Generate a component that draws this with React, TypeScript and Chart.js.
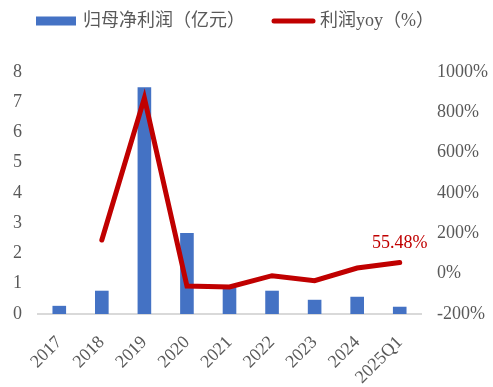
import React, { useEffect, useRef } from "react";
import { Chart, registerables } from "chart.js";

Chart.register(...registerables);

const categories = ["2017", "2018", "2019", "2020", "2021", "2022", "2023", "2024", "2025Q1"];
const netProfit = [0.27, 0.77, 7.5, 2.68, 0.88, 0.77, 0.47, 0.57, 0.24];
const profitYoy = [null, 167, 871, -61, -66, -10, -35, 28, 55.48];
const leftTicks = [0, 1, 2, 3, 4, 5, 6, 7, 8];
const rightTicks = [-200, 0, 200, 400, 600, 800, 1000];
const lastLabel = "55.48%";
const barName = "归母净利润（亿元）";
const lineName = "利润yoy（%）";

const FONT = "'Liberation Serif', 'Times New Roman', 'Noto Sans CJK SC', serif";

export default function App() {
  const ref = useRef<HTMLCanvasElement | null>(null);
  useEffect(() => {
    if (!ref.current) return;
    const labelPlugin = {
      id: "lastLabel",
      afterDatasetsDraw(chart: any) {
        const meta = chart.getDatasetMeta(1);
        const pt = meta.data[meta.data.length - 1];
        if (!pt) return;
        const ctx = chart.ctx;
        ctx.save();
        ctx.fillStyle = "#C00000";
        ctx.font = `18px ${FONT}`;
        ctx.textAlign = "center";
        ctx.textBaseline = "bottom";
        ctx.fillText(lastLabel, pt.x, pt.y - 10);
        ctx.restore();
      },
    };
    const legendPlugin = {
      id: "customLegend",
      afterDraw(chart: any) {
        const ctx = chart.ctx;
        ctx.save();
        const cy = 21;
        ctx.fillStyle = "#4472C4";
        ctx.fillRect(36, cy - 4.5, 40, 9);
        ctx.font = `18px ${FONT}`;
        ctx.fillStyle = "#595959";
        ctx.textAlign = "left";
        ctx.textBaseline = "middle";
        ctx.fillText(barName, 83, cy);
        ctx.strokeStyle = "#C00000";
        ctx.lineWidth = 5;
        ctx.lineCap = "round";
        ctx.beginPath();
        ctx.moveTo(274, cy);
        ctx.lineTo(313, cy);
        ctx.stroke();
        ctx.fillText(lineName, 320, cy);
        ctx.restore();
      },
    };
    const chart = new Chart(ref.current, {
      type: "bar",
      data: {
        labels: categories,
        datasets: [
          {
            type: "bar",
            label: barName,
            data: netProfit,
            backgroundColor: "#4472C4",
            borderWidth: 0,
            yAxisID: "y",
            barPercentage: 0.32,
            categoryPercentage: 1,
            order: 2,
          },
          {
            type: "line",
            label: lineName,
            data: profitYoy as any,
            borderColor: "#C00000",
            backgroundColor: "#C00000",
            borderWidth: 5,
            borderCapStyle: "round",
            pointRadius: 0,
            pointHoverRadius: 0,
            tension: 0,
            spanGaps: false,
            yAxisID: "y1",
            order: 1,
          },
        ],
      },
      options: {
        animation: false,
        responsive: true,
        maintainAspectRatio: false,
        layout: { padding: { top: 72, left: 0, right: 0, bottom: 0 } },
        plugins: {
          tooltip: { enabled: false },
          legend: { display: false },
        },
        scales: {
          x: {
            grid: { display: false, drawTicks: false },
            border: { display: true, color: "#D9D9D9", width: 2 },
            ticks: {
              color: "#595959",
              font: { family: FONT, size: 18 },
              maxRotation: 45,
              minRotation: 45,
              padding: 18,
              autoSkip: false,
            },
            afterFit(scale: any) {
              scale.height = 73;
            },
          },
          y: {
            position: "left",
            min: 0,
            max: 8,
            afterBuildTicks(scale: any) {
              scale.ticks = leftTicks.map((v) => ({ value: v }));
            },
            grid: { display: false, drawTicks: false },
            border: { display: false },
            ticks: {
              color: "#595959",
              font: { family: FONT, size: 18 },
              padding: 16,
            },
            afterFit(scale: any) {
              scale.width = 38;
            },
          },
          y1: {
            position: "right",
            min: -200,
            max: 1000,
            afterBuildTicks(scale: any) {
              scale.ticks = rightTicks.map((v) => ({ value: v }));
            },
            grid: { display: false, drawTicks: false },
            border: { display: false },
            ticks: {
              color: "#595959",
              font: { family: FONT, size: 18 },
              padding: 16,
              callback: (v: any) => `${v}%`,
            },
            afterFit(scale: any) {
              scale.width = 72;
            },
          },
        },
      },
      plugins: [labelPlugin, legendPlugin],
    } as any);
    return () => chart.destroy();
  }, []);
  return (
    <div style={{ position: "fixed", left: 0, top: 0, width: 493, height: 387, background: "#fff" }}>
      <canvas ref={ref} />
    </div>
  );
}
